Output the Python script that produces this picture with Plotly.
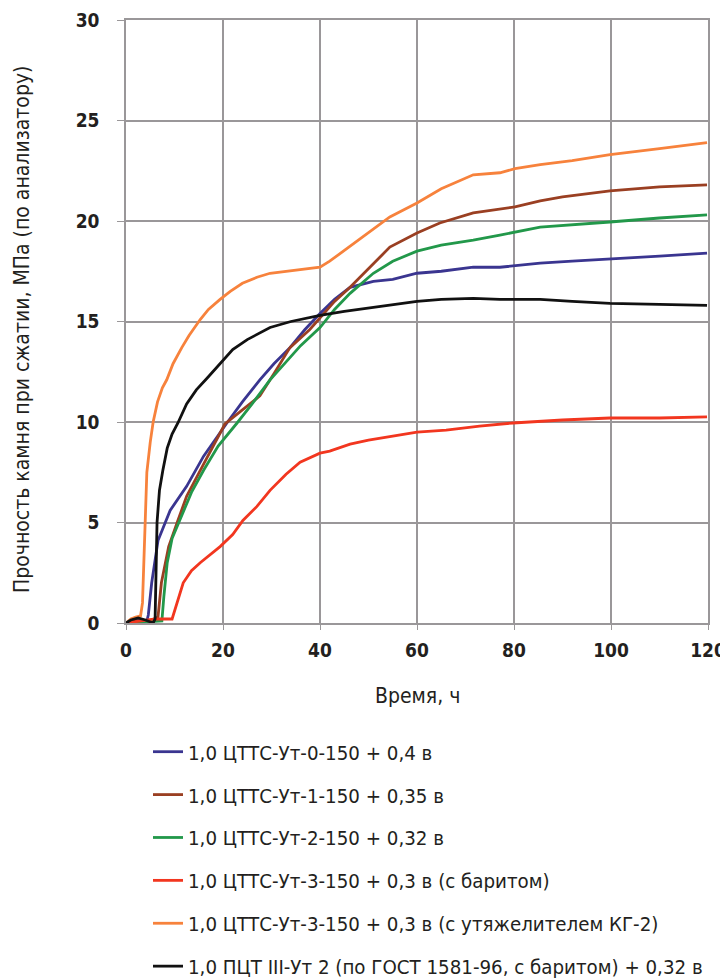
import plotly.graph_objects as go

# ---- data ----
names = [
    "1,0 ЦТТС-Ут-0-150 + 0,4 в",
    "1,0 ЦТТС-Ут-1-150 + 0,35 в",
    "1,0 ЦТТС-Ут-2-150 + 0,32 в",
    "1,0 ЦТТС-Ут-3-150 + 0,3 в (с баритом)",
    "1,0 ЦТТС-Ут-3-150 + 0,3 в (с утяжелителем КГ-2)",
    "1,0 ПЦТ III-Ут 2 (по ГОСТ 1581-96, с баритом) + 0,32 в",
]

t_blue = [0, 1, 3, 4.3, 4.6, 5.3, 6.6, 9.1, 12.5, 16, 20.8, 24, 27.6, 30.5, 33.8, 36.9, 40, 43, 46.2,
          51, 55, 60, 65, 71.6, 77.1, 85.4, 92, 99.8, 110, 119.8]
v_blue = [0, 0.1, 0.15, 0.1, 0.4, 2.0, 4.1, 5.6, 6.8, 8.3, 9.95, 11.0, 12.1, 12.9, 13.7, 14.6, 15.4,
          16.1, 16.7, 17.0, 17.1, 17.4, 17.5, 17.7, 17.7, 17.9, 18.0, 18.1, 18.25, 18.4]

t_brown = [0, 2, 5, 6.6, 7.3, 8.8, 10.7, 12.5, 16, 20.4, 24, 27.6, 30.5, 33.8, 37.9, 40, 43, 46.2,
           51, 54.4, 60, 64.7, 71.6, 77.1, 80.2, 85.4, 90, 99.8, 110, 119.8]
v_brown = [0, 0.1, 0.1, 0.3, 2.0, 3.8, 5.1, 6.3, 7.9, 9.9, 10.6, 11.3, 12.4, 13.7, 14.6, 15.2, 16.0,
           16.7, 17.9, 18.7, 19.4, 19.9, 20.4, 20.6, 20.7, 21.0, 21.2, 21.5, 21.7, 21.8]

t_green = [0, 5, 7.4, 7.8, 8.5, 9.5, 11.1, 13.5, 16, 19, 22.9, 26, 29.7, 33, 36, 40, 43, 46.2, 51,
           55, 60, 65, 71.6, 77.1, 85.4, 99.8, 110, 119.8]
v_green = [0, 0.05, 0.1, 1.3, 3.0, 4.2, 5.1, 6.5, 7.6, 8.8, 9.95, 10.9, 12.1, 13.0, 13.8, 14.7, 15.6,
           16.4, 17.4, 18.0, 18.5, 18.8, 19.05, 19.3, 19.7, 19.95, 20.15, 20.3]

t_red = [0, 3, 6, 9.5, 10.5, 11.8, 13.5, 15.3, 19.4, 22, 24.1, 27, 29.7, 33, 35.9, 40, 42, 46.2, 50,
         55, 60, 66, 72.9, 79.8, 90, 99.8, 110, 119.8]
v_red = [0, 0.1, 0.2, 0.2, 1.0, 2.0, 2.6, 3.0, 3.8, 4.4, 5.1, 5.8, 6.6, 7.4, 8.0, 8.45, 8.55, 8.9,
         9.1, 9.3, 9.5, 9.6, 9.8, 9.95, 10.1, 10.2, 10.2, 10.25]

t_orange = [0, 1, 2, 3, 3.4, 3.7, 3.9, 4.3, 5.0, 5.6, 6.5, 7.5, 8.4, 9.7, 11.5, 13, 15.3, 17, 19.4,
            21.5, 24, 27, 29.7, 33, 36, 40, 42, 46, 50, 54.4, 60, 65, 71.6, 77.1, 80.2, 85.4, 92,
            99.8, 110, 119.8]
v_orange = [0, 0.2, 0.3, 0.35, 1.0, 3.0, 5.1, 7.5, 9.0, 10.0, 11.0, 11.7, 12.1, 12.9, 13.7, 14.3,
            15.1, 15.6, 16.1, 16.5, 16.9, 17.2, 17.4, 17.5, 17.6, 17.7, 18.0, 18.7, 19.4, 20.2, 20.9,
            21.6, 22.3, 22.4, 22.6, 22.8, 23.0, 23.3, 23.6, 23.9]

t_black = [0, 1, 2.5, 4, 5.6, 6.0, 6.4, 6.9, 7.6, 8.5, 9.5, 10.7, 12.5, 14.5, 16.8, 19, 22, 25, 29.7,
           34, 38, 40, 45, 51, 55, 60, 65, 71.6, 77.1, 85.4, 92, 99.8, 110, 119.8]
v_black = [0, 0.15, 0.25, 0.15, 0.0, 0.2, 5.0, 6.6, 7.6, 8.7, 9.4, 9.95, 10.9, 11.6, 12.2, 12.8,
           13.6, 14.1, 14.7, 15.0, 15.2, 15.3, 15.5, 15.7, 15.85, 16.0, 16.1, 16.15, 16.1, 16.1,
           16.0, 15.9, 15.85, 15.8]

x_ticks = [0, 20, 40, 60, 80, 100, 120]
y_ticks = [0, 5, 10, 15, 20, 25, 30]
x_title = "Время, ч"
y_title = "Прочность камня при сжатии, МПа (по анализатору)"

series = [
    (t_blue, v_blue, "#3a3590"),
    (t_brown, v_brown, "#9a3f22"),
    (t_green, v_green, "#22984a"),
    (t_red, v_red, "#f2361f"),
    (t_orange, v_orange, "#f7823c"),
    (t_black, v_black, "#111111"),
]

FONT = "DejaVu Sans Condensed, Liberation Sans Narrow, Liberation Sans, sans-serif"
TXT = "#231f20"
GRID = "#9a9799"
# the page body has an 8px margin, so the figure is drawn 8px right/down
W, H = 720, 980
OFF = 8


def fx(px):
    return (px - OFF) / W


def fy(py):
    return 1 - (py - OFF) / H


fig = go.Figure()
for i, ((t, v, c), n) in enumerate(zip(series, names)):
    fig.add_trace(go.Scatter(x=t, y=v, mode="lines", name=n, legendgroup=f"g{i}",
                             line=dict(color=c, width=2.8)))

fig.update_layout(
    width=W, height=H,
    margin=dict(l=0, r=0, t=0, b=0),
    paper_bgcolor="white", plot_bgcolor="white",
    font=dict(family=FONT, color=TXT, size=18),
    showlegend=True,
    legend=dict(x=fx(148), xanchor="left", y=fy(732), yanchor="top",
                traceorder="grouped", tracegroupgap=13.5,
                font=dict(family=FONT, size=20.3, color=TXT),
                bgcolor="rgba(0,0,0,0)"),
    annotations=[
        dict(text=x_title, xref="paper", yref="paper", x=fx(417), y=fy(696),
             showarrow=False, xanchor="center", yanchor="middle",
             font=dict(family=FONT, size=21, color=TXT)),
        dict(text=y_title, xref="paper", yref="paper", x=fx(22), y=fy(330),
             showarrow=False, xanchor="center", yanchor="middle", textangle=-90,
             font=dict(family=FONT, size=21, color=TXT)),
    ],
)
fig.update_xaxes(domain=[fx(126), fx(708)], range=[0, 120], tickvals=x_ticks,
                 ticktext=[str(v) for v in x_ticks], automargin=False,
                 ticklabeloverflow="allow",
                 showgrid=True, gridcolor=GRID, gridwidth=1.5,
                 showline=True, linecolor=GRID, linewidth=1.5, mirror=True,
                 ticks="outside", ticklen=5, tickcolor=GRID, ticklabelstandoff=4,
                 tickfont=dict(family=FONT, size=19, color=TXT, weight="bold"),
                 zeroline=False)
fig.update_yaxes(domain=[fy(623), fy(20)], range=[0, 30], tickvals=y_ticks,
                 ticktext=[str(v) for v in y_ticks], automargin=False,
                 ticklabeloverflow="allow",
                 showgrid=True, gridcolor=GRID, gridwidth=1.5,
                 showline=True, linecolor=GRID, linewidth=1.5, mirror=True,
                 ticks="outside", ticklen=7, tickcolor=GRID, ticklabelstandoff=14,
                 tickfont=dict(family=FONT, size=19, color=TXT, weight="bold"),
                 zeroline=False)

fig.write_html("out.html")
